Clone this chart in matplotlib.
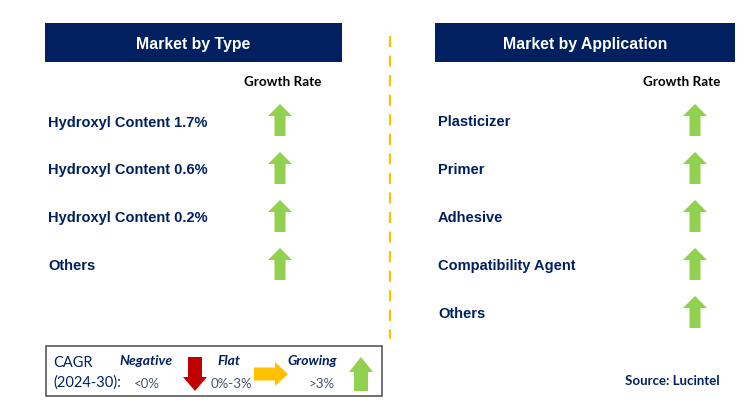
import matplotlib
matplotlib.use("Agg")
import matplotlib.pyplot as plt
from matplotlib.patches import Rectangle, FancyArrow

# ---- data ----
type_categories = ["Hydroxyl Content 1.7%", "Hydroxyl Content 0.6%", "Hydroxyl Content 0.2%", "Others"]
type_growth = ["up", "up", "up", "up"]
app_categories = ["Plasticizer", "Primer", "Adhesive", "Compatibility Agent", "Others"]
app_growth = ["up", "up", "up", "up", "up"]
panel_titles = ["Market by Type", "Market by Application"]
column_title = "Growth Rate"
legend_labels = ["Negative", "Flat", "Growing"]
legend_ranges = ["<0%", "0%-3%", ">3%"]
cagr_label = ["CAGR", "(2024-30):"]
source_text = "Source: Lucintel"

NAVY = "#002060"
GREEN = "#92D050"
RED = "#C00000"
YELLOW = "#FFC000"
W, H = 750, 406

fig = plt.figure(figsize=(W / 100, H / 100), dpi=100)
ax = fig.add_axes([0, 0, 1, 1])
ax.set_xlim(0, W)
ax.set_ylim(H, 0)
ax.axis("off")

SANS = ["Liberation Sans", "DejaVu Sans"]
CAL = ["Lato", "DejaVu Sans"]


def arrow(x, y, direction):
    """Draw a block arrow centred at (x, y)."""
    if direction == "up":
        ax.add_patch(FancyArrow(x, y + 16, 0, -32, width=11, head_width=24, head_length=12,
                                length_includes_head=True, color=GREEN, lw=0))
    elif direction == "down":
        ax.add_patch(FancyArrow(x, y - 17, 0, 34, width=14, head_width=24, head_length=14,
                                length_includes_head=True, color=RED, lw=0))
    else:
        ax.add_patch(FancyArrow(x - 17, y, 34, 0, width=13, head_width=24, head_length=13,
                                length_includes_head=True, color=YELLOW, lw=0))


panels = [
    (45, 342, type_categories, type_growth, 48, 280, 283),
    (435, 735, app_categories, app_growth, 438, 695, 682),
]
for (x0, x1, cats, growth, tx, axx, gx), title in zip(panels, panel_titles):
    ax.add_patch(Rectangle((x0, 24), x1 - x0, 39, color=NAVY, lw=0))
    ax.text((x0 + x1) / 2, 44, title, color="white", fontsize=11.4, fontweight="bold",
            family=SANS, ha="center", va="center")
    ax.text(gx, 82, column_title, color="black", fontsize=9.7, fontweight="bold",
            family=CAL, ha="center", va="center")
    for i, (c, g) in enumerate(zip(cats, growth)):
        y = 122 + 48 * i
        ax.text(tx, y + 0.5, c, color=NAVY, fontsize=10.5, fontweight="bold", family=SANS,
                ha="left", va="center")
        arrow(axx, y - 1, g)

# divider
ax.plot([390, 390], [37, 340], color=YELLOW, lw=1.6, ls=(0, (5, 3.8)))

# legend box
ax.add_patch(Rectangle((46, 347), 336, 50, fill=False, ec="#595959", lw=1.2))
ax.text(53, 363, cagr_label[0], color=NAVY, fontsize=10.5, family=CAL, va="center")
ax.text(53, 383, cagr_label[1], color=NAVY, fontsize=10.5, family=CAL, va="center")
lx = [146, 229, 312]
rx = [147, 231, 322]
for i, (lab, rng) in enumerate(zip(legend_labels, legend_ranges)):
    ax.text(lx[i], 361, lab, color=NAVY, fontsize=10, fontweight="bold", style="italic",
            family=CAL, ha="center", va="center")
    ax.text(rx[i], 384, rng, color="#44546A", fontsize=9.5, family=CAL, ha="center", va="center")
arrow(195, 375, "down")
arrow(271, 375, "right")
ax.add_patch(FancyArrow(361, 392, 0, -34, width=14, head_width=24, head_length=15,
                        length_includes_head=True, color=GREEN, lw=0))

ax.text(672, 381, source_text, color=NAVY, fontsize=9.5, fontweight="bold", family=CAL,
        ha="center", va="center")

fig.savefig("out.png", dpi=100)
